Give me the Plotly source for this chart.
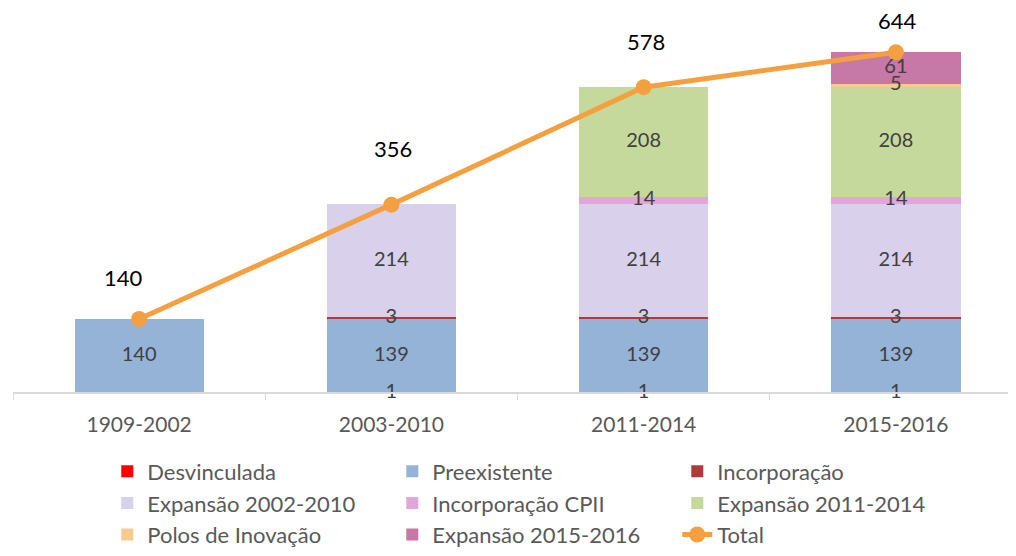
import plotly.graph_objects as go

categories = ["1909-2002", "2003-2010", "2011-2014", "2015-2016"]

desvinculada = [None, 1, 1, 1]
preexistente = [140, 139, 139, 139]
incorporacao = [None, 3, 3, 3]
expansao_2002_2010 = [None, 214, 214, 214]
incorporacao_cpii = [None, None, 14, 14]
expansao_2011_2014 = [None, None, 208, 208]
polos_inovacao = [None, None, None, 5]
expansao_2015_2016 = [None, None, None, 61]
total = [140, 356, 578, 644]

series = [
    ("Desvinculada", desvinculada, "#FF0000"),
    ("Preexistente", preexistente, "#95B3D7"),
    ("Incorporação", incorporacao, "#B03A3A"),
    ("Expansão 2002-2010", expansao_2002_2010, "#D9D0EB"),
    ("Incorporação CPII", incorporacao_cpii, "#E0A8DA"),
    ("Expansão 2011-2014", expansao_2011_2014, "#C4D99B"),
    ("Polos de Inovação", polos_inovacao, "#FAC990"),
    ("Expansão 2015-2016", expansao_2015_2016, "#C678A6"),
]

FONT = "Lato, 'Open Sans', sans-serif"

fig = go.Figure()
for name, vals, color in series:
    fig.add_trace(go.Bar(
        x=categories, y=vals, name=name,
        marker=dict(color=color, line=dict(width=0)),
        cliponaxis=False,
    ))

orange = "#F4A040"
fig.add_trace(go.Scatter(
    x=categories, y=total, name="Total", mode="lines+markers",
    line=dict(color=orange, width=5),
    marker=dict(color=orange, size=16),
    cliponaxis=False,
))

# segment labels at the middle of each stacked segment (drawn on top)
lx, ly, lt = [], [], []
base = [0.0] * len(categories)
for name, vals, color in series:
    for i, v in enumerate(vals):
        if v is None:
            continue
        lx.append(categories[i])
        ly.append(base[i] + v / 2)
        lt.append(str(v))
        base[i] += v
fig.add_trace(go.Scatter(
    x=lx, y=ly, text=lt, mode="text", showlegend=False, hoverinfo="skip",
    textfont=dict(family=FONT, size=20, color="#404040"),
    cliponaxis=False,
))

# total labels above points
xshifts = [-16, 2, 2, 2]
yshifts = [41, 56, 46, 32]
for c, v, dx, dy in zip(categories, total, xshifts, yshifts):
    fig.add_annotation(x=c, y=v, text=str(v), showarrow=False,
                       xshift=dx, yshift=dy,
                       font=dict(family=FONT, size=22, color="#000000"))

fig.update_layout(
    width=1008, height=548,
    margin=dict(l=5, r=0, t=21, b=154),
    barmode="stack", bargap=0.488,
    plot_bgcolor="white", paper_bgcolor="white",
    font=dict(family=FONT, color="#595959"),
    xaxis=dict(
        range=[-0.5, 3.476], showline=True, linecolor="#D9D9D9", linewidth=1.8,
        anchor="free", position=0.0012, layer="above traces",
        ticks="outside", tickson="boundaries", ticklen=7, tickcolor="#D9D9D9",
        tickfont=dict(family=FONT, size=21, color="#595959"),
        ticklabelstandoff=13, showgrid=False,
    ),
    yaxis=dict(range=[0, 688], visible=False),
    legend=dict(
        orientation="h", traceorder="normal",
        x=0.094, xanchor="left", y=-0.158, yanchor="top",
        entrywidth=240, entrywidthmode="pixels",
        font=dict(family=FONT, size=22, color="#595959"),
        bgcolor="rgba(0,0,0,0)",
    ),
)

fig.write_html("out.html")
